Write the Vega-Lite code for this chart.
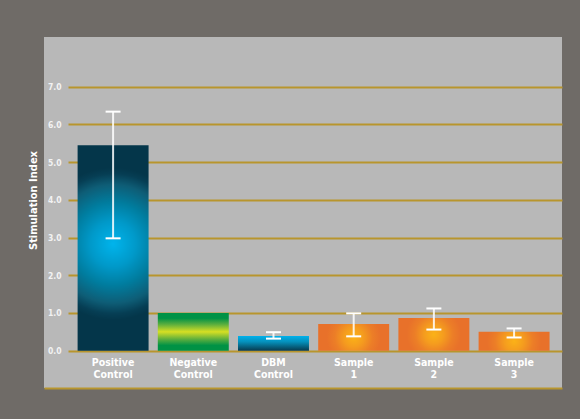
{
  "$schema": "https://vega.github.io/schema/vega-lite/v6.json",
  "width": 518,
  "height": 351,
  "autosize": {"type": "none"},
  "padding": {"left": 44, "top": 37, "right": 18, "bottom": 31},
  "background": "#6f6b67",
  "config": {
    "view": {"fill": "#b8b8b8", "stroke": null},
    "font": "Liberation Sans Narrow, DejaVu Sans Condensed, Open Sans, sans-serif"
  },
  "data": {
    "values": [
      {"group": "Positive Control", "value": 5.45, "lo": 2.98, "hi": 6.34},
      {"group": "Negative Control", "value": 1.0, "lo": null, "hi": null},
      {"group": "DBM Control", "value": 0.39, "lo": 0.32, "hi": 0.49},
      {"group": "Sample 1", "value": 0.71, "lo": 0.38, "hi": 0.99},
      {"group": "Sample 2", "value": 0.87, "lo": 0.56, "hi": 1.12},
      {"group": "Sample 3", "value": 0.5, "lo": 0.35, "hi": 0.59}
    ]
  },
  "encoding": {
    "x": {
      "field": "group",
      "type": "nominal",
      "sort": null,
      "scale": {"paddingInner": 0.115, "paddingOuter": 0.287, "align": 0.73},
      "axis": {
        "title": null,
        "labelAngle": 0,
        "ticks": false,
        "domain": true,
        "domainColor": "#b8952d",
        "domainWidth": 2,
        "labelPadding": -31,
        "labelBaseline": "top",
        "labelAlign": "center",
        "labelColor": "#ffffff",
        "labelFontSize": 10.5,
        "labelFontWeight": "bold",
        "labelLineHeight": 12,
        "labelExpr": "split(datum.label, ' ')",
        "labelOverlap": false,
        "labelBound": false
      }
    }
  },
  "layer": [
    {
      "transform": [{"filter": "datum.group === 'Positive Control'"}],
      "mark": {
        "type": "bar",
        "color": {
          "gradient": "radial",
          "x1": 0.5, "y1": 0.48, "r1": 0,
          "x2": 0.5, "y2": 0.48, "r2": 0.37,
          "stops": [
            {"offset": 0, "color": "#00b4ec"},
            {"offset": 0.3, "color": "#0099c9"},
            {"offset": 0.55, "color": "#007c9e"},
            {"offset": 0.78, "color": "#0e5d76"},
            {"offset": 0.92, "color": "#063e54"},
            {"offset": 1, "color": "#04364a"}
          ]
        }
      },
      "encoding": {
        "y": {
          "field": "value",
          "type": "quantitative",
          "scale": {"domain": [-0.99, 8.32], "nice": false, "zero": false},
          "axis": {
            "title": "Stimulation Index",
            "values": [0, 1, 2, 3, 4, 5, 6, 7],
            "format": ".1f",
            "domain": false,
            "ticks": false,
            "grid": true,
            "gridColor": "#b8952d",
            "gridWidth": 2,
            "gridOpacity": 1,
            "gridDash": [0, 24, 494, 0],
            "labelPadding": -17,
            "labelAlign": "right",
            "labelBaseline": "middle",
            "labelColor": "#f2f2f2",
            "labelFontSize": 8.5,
            "labelFontWeight": "bold",
            "titleColor": "#ffffff",
            "titleFontSize": 11,
            "titleFontWeight": "bold",
            "titleX": -6,
            "titleY": 163,
            "titleAngle": -90,
            "titleBaseline": "bottom",
            "titleAlign": "center"
          }
        },
        "y2": {"datum": 0}
      }
    },
    {
      "transform": [{"filter": "datum.group === 'Negative Control'"}],
      "mark": {
        "type": "bar",
        "color": {
          "gradient": "linear",
          "x1": 0, "y1": 0, "x2": 0, "y2": 1,
          "stops": [
            {"offset": 0, "color": "#009245"},
            {"offset": 0.14, "color": "#009245"},
            {"offset": 0.3, "color": "#5aae3e"},
            {"offset": 0.5, "color": "#d6df23"},
            {"offset": 0.7, "color": "#5aae3e"},
            {"offset": 0.86, "color": "#009245"},
            {"offset": 1, "color": "#009245"}
          ]
        }
      },
      "encoding": {
        "y": {"field": "value", "type": "quantitative"},
        "y2": {"datum": 0}
      }
    },
    {
      "transform": [{"filter": "datum.group === 'DBM Control'"}],
      "mark": {
        "type": "bar",
        "color": {
          "gradient": "linear",
          "x1": 0, "y1": 0, "x2": 0, "y2": 1,
          "stops": [
            {"offset": 0, "color": "#00b1ec"},
            {"offset": 0.4, "color": "#0590bb"},
            {"offset": 1, "color": "#073a4f"}
          ]
        }
      },
      "encoding": {
        "y": {"field": "value", "type": "quantitative"},
        "y2": {"datum": 0}
      }
    },
    {
      "transform": [{"filter": "indexof(datum.group, 'Sample') === 0"}],
      "mark": {
        "type": "bar",
        "color": {
          "gradient": "radial",
          "x1": 0.5, "y1": 0.5, "r1": 0,
          "x2": 0.5, "y2": 0.5, "r2": 0.38,
          "stops": [
            {"offset": 0, "color": "#fbb217"},
            {"offset": 0.35, "color": "#f59d1e"},
            {"offset": 0.7, "color": "#ec7e27"},
            {"offset": 1, "color": "#e8712a"}
          ]
        }
      },
      "encoding": {
        "y": {"field": "value", "type": "quantitative"},
        "y2": {"datum": 0}
      }
    },
    {
      "mark": {"type": "rule", "color": "#ffffff", "strokeWidth": 2, "opacity": 0.85},
      "encoding": {
        "y": {"field": "lo", "type": "quantitative"},
        "y2": {"field": "hi"}
      }
    },
    {
      "mark": {"type": "tick", "color": "#ffffff", "size": 15, "thickness": 2, "opacity": 1},
      "encoding": {
        "y": {"field": "lo", "type": "quantitative"}
      }
    },
    {
      "mark": {"type": "tick", "color": "#ffffff", "size": 15, "thickness": 2, "opacity": 1},
      "encoding": {
        "y": {"field": "hi", "type": "quantitative"}
      }
    }
  ]
}
